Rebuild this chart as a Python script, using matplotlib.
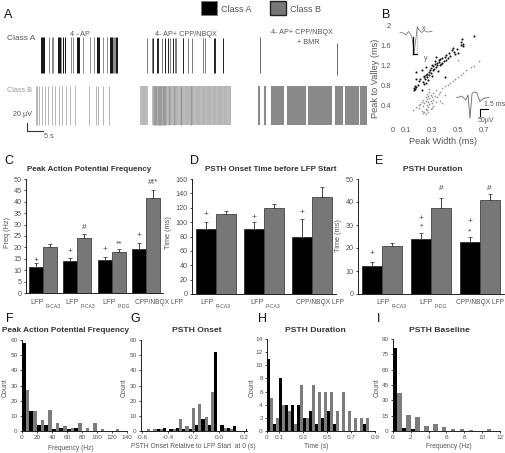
import matplotlib
matplotlib.use("Agg")
import numpy as np
import matplotlib.pyplot as plt
from matplotlib.patches import Rectangle

plt.rcParams["font.family"] = ["Liberation Sans", "DejaVu Sans"]

W, H = 506, 453
BLACK = "#000000"
GRAY = "#777777"
TXT = "#555555"

# panel A, spike times in seconds
a1_dark = [12.2, 12.5, 12.8, 13.1, 17.3, 17.6, 17.9, 19.0, 19.4, 23.0, 23.3, 23.6,
           29.2, 29.5, 29.8, 33.0, 33.3, 33.6, 34.8, 35.0]
a1_gray = [14.8, 15.5, 15.9, 18.3, 21.2, 21.8, 24.8, 27.0, 28.3, 31.0, 32.0, 34.0, 34.3, 34.5]
a2_dark = [46.0, 47.0, 47.3, 49.5, 50.5, 52.0, 55.0, 64.2, 64.5, 66.8]
a2_gray = [44.2, 45.5, 48.5, 51.0, 52.5, 52.8, 54.8, 56.5, 57.5, 60.8, 61.5]
a3_gray = [78.1, 101.0]
b1_spikes = [10.8, 11.2, 11.8, 12.5, 13.5, 14.5, 15.5, 16.5, 17.8, 18.6, 19.8, 21.0,
             22.6, 26.6, 28.8, 29.4, 31.0, 32.8]
b2_spikes = [42.4, 42.8, 43.2, 43.6, 44.0, 45.9, 46.2, 46.6, 46.9, 47.3, 47.7, 48.0, 48.4,
             48.8, 49.1, 49.5, 49.9, 50.2, 50.6, 51.0, 51.3, 51.7, 52.1, 52.4, 52.8, 53.2,
             53.5, 53.9, 54.3, 54.6, 55.0, 55.4, 55.7, 56.1, 56.5, 56.8, 57.2, 57.6, 57.9,
             58.3, 58.7, 59.0, 59.4, 59.8, 60.1, 60.5, 60.9, 61.2, 61.6, 62.0, 62.3, 62.7,
             63.1, 63.4, 63.8, 64.2, 64.5, 64.9, 65.3, 65.6, 66.0, 66.4, 66.7, 67.1, 67.5,
             67.8, 68.2, 68.6, 68.9]
b2_dark = [46.2, 46.6, 46.9, 47.3, 47.7, 48.0, 48.4, 48.8, 49.1, 49.5, 50.6, 52.1, 54.3, 57.2]
b3_spikes = [77.7, 79.5, 81.6, 82.0, 82.4, 82.8, 83.2, 83.6, 84.0, 84.4, 84.8, 86.4, 86.8,
             87.2, 87.6, 88.0, 88.4, 88.8, 89.2, 89.6, 90.0, 90.4, 90.8, 91.2, 91.6, 92.6,
             93.0, 93.4, 93.8, 94.2, 94.6, 95.0, 95.4, 95.8, 96.2, 96.6, 97.0, 97.4, 97.8,
             98.2, 98.6, 99.0, 99.4, 100.9, 101.3, 101.7, 102.1, 102.5, 103.9, 104.3, 104.7,
             105.1, 105.5, 105.9, 106.3, 106.7, 107.1, 107.5, 108.2, 108.6, 109.0, 109.4,
             109.8, 110.2, 110.6, 111.0]

# panel B, peak width and peak to valley in ms
a_width = [.16, .165, .17, .17, .175, .19, .20, .21, .22, .23, .235, .24, .245, .25, .255, .26,
           .265, .27, .275, .28, .285, .29, .295, .30, .305, .31, .315, .32, .325, .33, .335,
           .34, .345, .35, .355, .36, .365, .37, .375, .38, .39, .40, .405, .41, .42, .43, .44,
           .45, .46, .47, .48, .49, .50, .52, .525, .53, .54, .535, .62, .18, .22, .25, .24,
           .30, .40, .33, .18]
a_valley = [.70, .74, .72, .78, .76, .80, .88, .92, .70, .86, .96, .98, .92, 1.0, .84, 1.02,
            .96, .90, 1.06, 1.0, 1.10, 1.04, 1.14, 1.20, 1.10, 1.18, 1.12, 1.22, 1.28, 1.16,
            1.24, 1.20, 1.08, 1.26, 1.30, 1.20, 1.32, 1.22, 1.34, 1.24, 1.28, 1.36, 1.30, 1.40,
            1.34, 1.44, 1.38, 1.50, 1.54, 1.46, 1.42, 1.52, 1.44, 1.66, 1.60, 1.72, 1.58, 1.62,
            1.78, 1.06, 1.10, 1.16, .82, .98, .96, 1.36, .93]
b_width = [.15, .18, .20, .21, .22, .22, .23, .23, .24, .24, .25, .25, .25, .26, .26, .26, .27,
           .27, .27, .28, .28, .28, .29, .29, .30, .30, .31, .31, .32, .33, .34, .35, .36, .30,
           .23, .20, .26, .28, .33, .36, .38, .40, .42, .44, .46, .48, .50, .52, .54, .56, .60,
           .62, .66, .50, .40, .38, .31, .25, .27, .29]
b_valley = [.30, .36, .34, .42, .28, .46, .38, .50, .26, .44, .32, .48, .56, .40, .52, .62, .36,
            .46, .58, .42, .54, .66, .48, .60, .44, .56, .50, .64, .58, .46, .56, .62, .48, .34,
            .24, .40, .30, .72, .70, .66, .74, .78, .80, .84, .88, .92, .96, 1.00, 1.04, 1.10,
            1.16, 1.18, 1.28, 1.30, .60, .44, .38, .22, .26, .32]
wave_top_x = [.054, .08, .10, .118, .13, .144, .155, .162, .175, .187, .20, .22, .24, .26, .30]
wave_top_y = [1.85, 1.84, 1.80, 1.87, 1.84, 1.77, 1.60, 1.43, 1.70, 1.97, 1.90, 1.85, 1.89, 1.86, 1.87]
wave_low_x = [.49, .51, .528, .56, .577, .592, .608, .625, .644, .669, .695, .738]
wave_low_y = [.553, .56, .58, .50, .60, .133, .633, .66, .647, .467, .533, .553]

# panels C, D, E: means and top of the error bar
c_subs = ["R-CA3", "P-CA3", "P-DG"]
d_subs = ["R-CA3", "P-CA3"]
e_subs = ["R-CA3", "P-DG"]
cpp_label = "CPP/NBQX LFP"
c_a = [11.5, 14, 14.3, 19.2]
c_a_top = [13, 15.2, 15.7, 22]
c_b = [20, 24, 17.8, 41.8]
c_b_top = [21.5, 25.7, 19.2, 45.3]
d_a = [91, 91, 80]
d_a_top = [100, 100, 104]
d_b = [112, 119, 135]
d_b_top = [116, 125, 149]
e_a = [12.2, 24, 22.5]
e_a_top = [14, 26.5, 25]
e_b = [20.8, 37.5, 41]
e_b_top = [22.3, 41.7, 43.5]

# histograms: left edge of each bin and its count
f_a_bins = [0, 10, 20, 30, 40, 50, 60, 70]
f_a = [58, 13, 4, 4, 1, 2, 1, 2]
f_b_bins = [5, 15, 25, 35, 45, 55, 65, 75, 85, 95, 105, 125]
f_b = [27, 13, 7, 14, 5, 3, 2, 5, 2, 5, 1, 1]
g_a_bins = [-.4875, -.4375, -.3875, -.3375, -.2875, -.2375, -.1875, -.1375, -.0875, -.0375,
            .0125, .0625, .1125, .2125]
g_a = [1, 2, 1, 2, 1, 1, 4, 8, 4, 52, 4, 2, 3, 1]
g_b_bins = [-.5625, -.5125, -.4625, -.3625, -.3125, -.2625, -.2125, -.1625, -.1125, -.0625,
            .0375, .0875]
g_b = [1, 1, 1, 1, 8, 3, 15, 18, 9, 26, 2, 1]
h_a_bins = [0, .05, .10, .15, .20, .25, .30, .35, .40, .45, .50, .55, .80]
h_a = [11, 1, 8, 4, 4, 4, 2, 3, 1, 2, 3, 1, 1]
h_b_bins = [.025, .075, .125, .175, .225, .275, .325, .375, .425, .475, .525, .575, .625, .675,
            .725, .775, .825]
h_b = [5, 2, 4, 3, 1, 7, 2, 7, 6, 6, 6, 3, 6, 3, 2, 2, 2]
i_a_bins = [0, 1, 2]
i_a = [81, 3, 2]
i_b_bins = [.5, 1.5, 2.5, 3.5, 4.5, 5.5, 6.5, 7.5, 8.5, 10.5]
i_b = [37, 16, 14, 5, 7, 4, 2, 2, 1, 2]


fig = plt.figure(figsize=(W / 100, H / 100), dpi=100)


def axes_px(left, right, top, bottom):
    return fig.add_axes([left / W, 1 - bottom / H, (right - left) / W, (bottom - top) / H])


def txt(x, y, s, size=5.2, color=TXT, ha="center", **kw):
    fig.text(x / W, 1 - y / H, s, fontsize=size, color=color, ha=ha, va="center", **kw)


def style(ax, size):
    ax.spines["top"].set_visible(False)
    ax.spines["right"].set_visible(False)
    ax.spines["left"].set_linewidth(0.6)
    ax.spines["bottom"].set_linewidth(0.6)
    ax.tick_params(length=1.5, width=0.5, pad=1.5, labelsize=size, labelcolor=TXT)
    ax.patch.set_alpha(0)


# panel A
ax = axes_px(0, 367, 0, 150)
ax.set_xlim(0, 110.1)
ax.set_ylim(0, 333)
ax.axis("off")
ax.vlines(a1_gray, 170, 250, color="#777777", lw=0.6)
ax.vlines(a1_dark, 170, 250, color="#111111", lw=0.7)
ax.vlines(a2_gray, 172, 248, color="#666666", lw=0.6)
ax.vlines(a2_dark, 172, 248, color="#222222", lw=0.7)
ax.vlines(a3_gray, [172, 167], [250, 238], color="#666666", lw=0.7)
ax.vlines(b1_spikes, 56, 143, color="#aaaaaa", lw=0.6)
ax.vlines(b2_spikes, 56, 143, color="#b5b5b5", lw=1.3, capstyle="butt")
ax.vlines(b2_dark, 56, 143, color="#999999", lw=1.0)
ax.vlines(b3_spikes, 56, 143, color="#8a8a8a", lw=1.5)
ax.plot([8, 8, 13], [61, 42, 42], color="#333333", lw=0.8)

txt(80, 34, "4 - AP")
txt(186, 35, "4- AP+ CPP/NBQX")
txt(302, 33, "4- AP+ CPP/NBQX")
txt(308, 43, "+ BMR")
txt(7, 39, "Class A", ha="left", size=6)
txt(7, 91, "Class B", ha="left", size=5.2, color="#999999")
txt(13, 115, "20 µV", ha="left")
txt(49, 137, "5 s")
fig.add_artist(Rectangle((201 / W, 1 - 15 / H), 16 / W, 14 / H, fc=BLACK, ec="#777777", lw=0.5,
                         transform=fig.transFigure))
fig.add_artist(Rectangle((270 / W, 1 - 15 / H), 16 / W, 14 / H, fc=GRAY, ec="#222222", lw=1,
                         transform=fig.transFigure))
txt(221, 9, "Class A", ha="left", size=6.5)
txt(290, 9, "Class B", ha="left", size=6.5)

# panel B
ax = axes_px(393, 490, 25, 125)
ax.set_xlim(0, 0.746)
ax.set_ylim(0, 2)
ax.patch.set_alpha(0)
for s in ax.spines.values():
    s.set_visible(False)
ax.scatter(b_width, b_valley, s=1.6, color="#999999", lw=0)
ax.scatter(a_width, a_valley, s=2.2, color="#111111", lw=0)
ax.plot(wave_top_x, wave_top_y, color="#666666", lw=0.5)
ax.plot(wave_low_x, wave_low_y, color="#666666", lw=0.6)
ax.plot([.155, .155], [1.43, 1.77], color="k", lw=0.9)
ax.plot([.155, .187], [1.43, 1.43], color="k", lw=0.9)
ax.plot([.187, .187], [1.43, 1.97], color="#555555", lw=0.5, ls=":")
ax.plot([.672, .672, .73], [.187, .313, .313], color="k", lw=0.8, clip_on=False)
ax.set_xticks([0, .1, .3, .5, .7], ["0", "0.1", "0.3", "0.5", "0.7"])
ax.set_yticks([.4, .8, 1.2, 1.6, 2], ["0.4", "0.8", "1.2", "1.6", "2"])
ax.tick_params(length=0, pad=1.5, labelsize=5.4, labelcolor=TXT)
txt(424, 29, "x", size=5)
txt(426, 58, "y", size=5)
txt(495, 105, "1.5 ms", size=5)
txt(486, 120, "50µV", size=5)
txt(375, 78, "Peak to Valley (ms)", size=6.6, rotation=90)
txt(443, 142, "Peak Width (ms)", size=6.6)


# panels C, D, E
def bars(ax, a, a_top, b, b_top, ymax, step):
    x = np.arange(len(a))
    ax.bar(x - .205, a, .41, color=BLACK, edgecolor=BLACK, lw=0.4)
    ax.bar(x + .205, b, .41, color=GRAY, edgecolor="#444444", lw=0.6)
    a_err = np.array(a_top) - np.array(a)
    b_err = np.array(b_top) - np.array(b)
    ax.errorbar(x - .205, a, yerr=[0 * a_err, a_err], fmt="none", ecolor="#444444", elinewidth=0.7,
                capsize=1.2, capthick=0.6)
    ax.errorbar(x + .205, b, yerr=[0 * b_err, b_err], fmt="none", ecolor="#444444", elinewidth=0.7,
                capsize=1.2, capthick=0.6)
    ax.set_xlim(-.5, len(a) - .5)
    ax.set_ylim(0, ymax)
    ax.set_yticks(np.arange(0, ymax + 1, step))
    ax.set_xticks(x, [])
    style(ax, 5.2)
    ax.tick_params(axis="x", length=0)


def marks(ax, items):
    for x, y, s in items:
        ax.text(x, y, s, ha="center", va="center", fontsize=6, color="#444444")


def lfp_labels(starts, subs):
    # LFP with a much smaller subscript, spaced apart like the original
    for x, sub in zip(starts, subs):
        txt(x, 303, "LFP", size=5.3, ha="left")
        txt(x + 16, 306, sub, size=3.6, ha="left")


ax = axes_px(26, 163, 179, 293)
bars(ax, c_a, c_a_top, c_b, c_b_top, 50, 5)
marks(ax, [(-.205, 14.2, "+"), (.795, 18, "+"), (1.205, 28.6, "#"), (1.795, 19.2, "+"),
           (2.205, 21.5, "**"), (2.795, 25, "+"), (3.205, 48.6, "#!*")])
ax = axes_px(192, 336, 179, 294)
bars(ax, d_a, d_a_top, d_b, d_b_top, 160, 20)
marks(ax, [(-.205, 110, "+"), (.795, 107, "+"), (1.795, 113, "+")])
ax = axes_px(358, 504, 179, 294)
bars(ax, e_a, e_a_top, e_b, e_b_top, 50, 10)
marks(ax, [(-.205, 17.8, "+"), (.795, 33, "+"), (.795, 29, "*"), (1.205, 46, "#"),
           (1.795, 31.4, "+"), (1.795, 27, "*"), (2.205, 46, "#")])
lfp_labels([30, 65, 102], c_subs)
lfp_labels([200, 250], d_subs)
lfp_labels([376, 419], e_subs)
txt(159, 303, cpp_label, size=4.8)
txt(320, 303, cpp_label, size=4.8)
txt(480, 303, cpp_label, size=4.8)
txt(89, 170, "Peak Action Potential Frequency", size=5.8, color="#333333", fontweight="bold")
txt(271, 170, "PSTH Onset Time before LFP Start", size=5.8, color="#333333", fontweight="bold")
txt(433, 170, "PSTH Duration", size=6, color="#333333", fontweight="bold")
txt(8, 233, "Freq (Hz)", rotation=90, size=5.3)
txt(168, 233, "Time (ms)", rotation=90, size=5.3)
txt(339, 236, "Time (ms)", rotation=90, size=5.3)


# panels F, G, H, I
def hist(ax, a_bins, a, b_bins, b, width, xlim, xticks, xlabels, ymax, step):
    ax.bar(b_bins, b, width, align="edge", color="#7c7c7c", lw=0)
    ax.bar(a_bins, a, width, align="edge", color=BLACK, lw=0)
    ax.set_xlim(*xlim)
    ax.set_ylim(0, ymax)
    ax.set_xticks(xticks, xlabels)
    ax.set_yticks(np.arange(0, ymax + 1, step))
    style(ax, 4.6)


ax = axes_px(22, 127, 340, 431)
hist(ax, f_a_bins, f_a, f_b_bins, f_b, 5, (0, 140), range(0, 141, 20),
     ["0", "20", "40", "60", "80", "100", "120", "140"], 60, 10)
ax = axes_px(141, 247, 340, 431)
hist(ax, g_a_bins, g_a, g_b_bins, g_b, .025, (-.61, .22), [-.6, -.4, -.2, 0, .2],
     ["-0.6", "-0.4", "-0.2", "0.0", "0.2"], 60, 10)
ax = axes_px(267, 375, 339, 431)
hist(ax, h_a_bins, h_a, h_b_bins, h_b, .025, (0, .9), [0, .1, .3, .5, .7, .9],
     ["0", "0.1", "0.3", "0.5", "0.7", "0.9"], 14, 2)
ax = axes_px(393, 500, 339, 431)
hist(ax, i_a_bins, i_a, i_b_bins, i_b, .5, (0, 12), range(0, 13, 2),
     ["0", "2", "4", "6", "8", "10", "12"], 90, 15)
txt(65, 331, "Peak Action Potential Frequency", size=5.9, color="#333333", fontweight="bold")
txt(197, 330, "PSTH Onset", size=6.1, color="#333333", fontweight="bold")
txt(315, 330, "PSTH Duration", size=6.1, color="#333333", fontweight="bold")
txt(439, 330, "PSTH Baseline", size=6.1, color="#333333", fontweight="bold")
txt(71, 448, "Frequency (Hz)", size=4.8)
txt(193, 447, "PSTH Onset Relative to LFP Start  at 0 (s)", size=4.8)
txt(316, 447, "Time (s)", size=4.8)
txt(449, 447, "Frequency (Hz)", size=4.8)
txt(5, 388, "Count", rotation=90, size=5)
txt(124, 388, "Count", rotation=90, size=5)
txt(252, 388, "Count", rotation=90, size=5)
txt(377, 388, "Count", rotation=90, size=5)

# panel letters
for x, y, s in [(8, 15, "A"), (386, 15, "B"), (9, 161, "C"), (195, 161, "D"), (379, 161, "E"),
                (10, 319, "F"), (135, 319, "G"), (263, 319, "H"), (379, 319, "I")]:
    txt(x, y, s, size=9, color="#111111")

fig.savefig("out.png", dpi=100)
